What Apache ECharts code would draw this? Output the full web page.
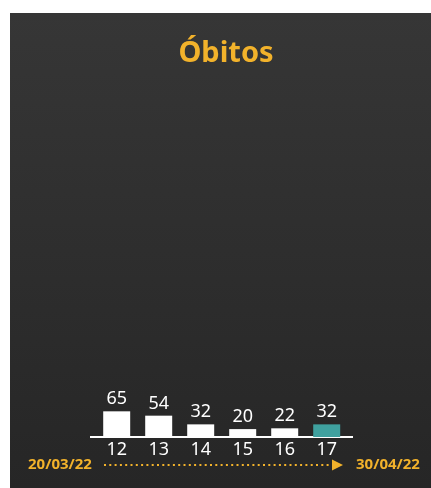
<!DOCTYPE html>
<html>
<head>
<meta charset="utf-8">
<script src="https://cdn.jsdelivr.net/npm/echarts@6/dist/echarts.min.js"></script>
<style>
  html, body { margin: 0; padding: 0; background: #fff; }
  #chart { width: 431px; height: 488px; }
</style>
</head>
<body>
<div id="chart"></div>
<script>
var semanas = ["12", "13", "14", "15", "16", "17"];
var obitos = [65, 54, 32, 20, 22, 32];
var titulo = "Óbitos";
var dataInicio = "20/03/22";
var dataFim = "30/04/22";

var amarelo = "#f2b22b";
var fonte = "'Noto Sans', sans-serif";

var myChart = echarts.init(document.getElementById("chart"));

var option = {
  backgroundColor: "transparent",
  animation: false,
  graphic: [
    {
      type: "rect",
      z: -10,
      shape: { x: 10, y: 13, width: 421, height: 475 },
      style: {
        fill: {
          type: "linear", x: 0, y: 0, x2: 0, y2: 1,
          colorStops: [
            { offset: 0, color: "#363636" },
            { offset: 1, color: "#262626" },
          ],
        },
      },
    },
    {
      type: "text",
      x: 226,
      y: 39,
      style: {
        text: titulo,
        fill: amarelo,
        font: "bold 29px " + fonte,
        textAlign: "center",
      },
    },
    {
      // linha base
      type: "line",
      shape: { x1: 90, y1: 437, x2: 353, y2: 437 },
      style: { stroke: "#fff", lineWidth: 2 },
    },
    {
      type: "line",
      shape: { x1: 104, y1: 465, x2: 330, y2: 465 },
      style: { stroke: amarelo, lineWidth: 2, lineDash: [2, 3.3] },
    },
    {
      type: "polygon",
      shape: { points: [[332, 459.5], [332, 470.5], [343, 465]] },
      style: { fill: amarelo },
    },
    {
      type: "text",
      x: 28,
      y: 465,
      style: {
        text: dataInicio,
        fill: amarelo,
        font: "bold 15px " + fonte,
        textVerticalAlign: "middle",
      },
    },
    {
      type: "text",
      x: 356,
      y: 465,
      style: {
        text: dataFim,
        fill: amarelo,
        font: "bold 15px " + fonte,
        textVerticalAlign: "middle",
      },
    },
  ],
  grid: {
    left: 95.7,
    width: 252,
    bottom: 51,
    height: 39.5,
  },
  xAxis: {
    type: "category",
    data: semanas,
    axisLine: { show: false },
    axisTick: { show: false },
    axisLabel: {
      color: "#fff",
      fontSize: 18,
      fontFamily: fonte,
      margin: 4,
    },
  },
  yAxis: {
    type: "value",
    min: 0,
    max: 100,
    show: false,
    splitLine: { show: false },
  },
  series: [
    {
      type: "bar",
      data: obitos.map(function (v, i) {
        return {
          value: v,
          itemStyle: { color: i === obitos.length - 1 ? "#3fa19f" : "#fff" },
        };
      }),
      barWidth: 27,
      label: {
        show: true,
        position: "top",
        distance: 3,
        color: "#fff",
        fontSize: 18,
        fontFamily: fonte,
      },
    },
  ],
};

myChart.setOption(option);
</script>
</body>
</html>
